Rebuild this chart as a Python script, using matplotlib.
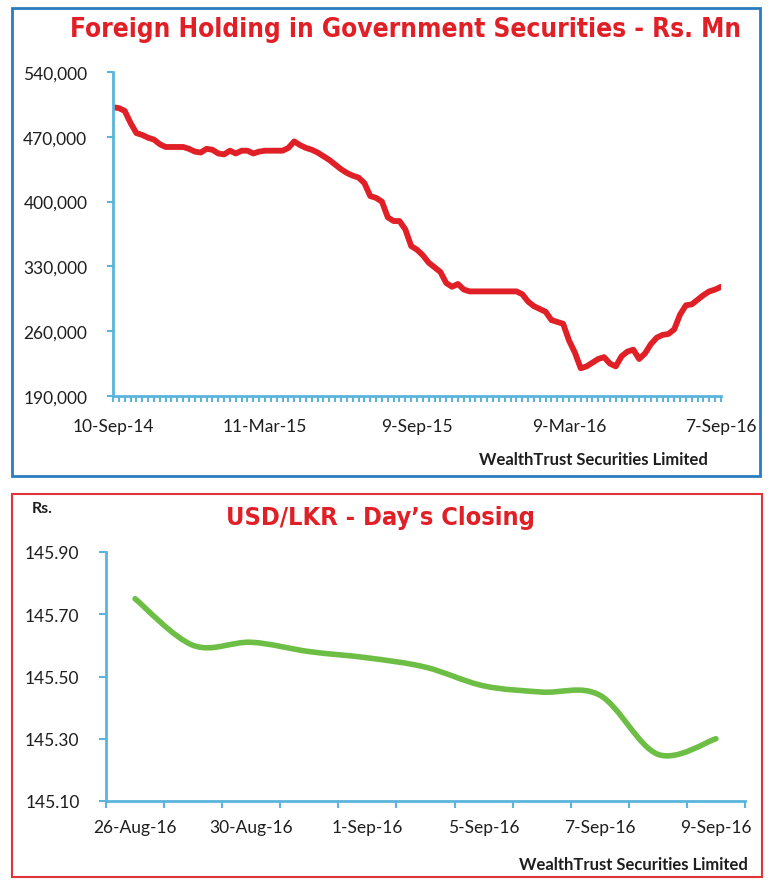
import matplotlib
matplotlib.use("Agg")
import matplotlib.pyplot as plt
from matplotlib.patches import Rectangle, PathPatch
from matplotlib.path import Path
from matplotlib.ticker import FuncFormatter, FixedLocator

# ---------------- data ----------------
foreign_holding = [502000, 501000, 498000, 485000, 474000, 472000, 469000, 467000, 462000, 459000,
                   459000, 459000, 459000, 457000, 454000, 453000, 457000, 456000, 452000, 451000,
                   455000, 452000, 455000, 455000, 452000, 454000, 455000, 455000, 455000, 455000,
                   458000, 465000, 461000, 458000, 456000, 453000, 449000, 445000, 440000, 435000,
                   431000, 428000, 426000, 420000, 406000, 404000, 400000, 383000, 379000, 379000,
                   370000, 352000, 348000, 342000, 334000, 329000, 324000, 312000, 308000, 311000,
                   305000, 303000, 303000, 303000, 303000, 303000, 303000, 303000, 303000, 303000,
                   300000, 292000, 287000, 284000, 281000, 272000, 270000, 268000, 250000, 237000,
                   220000, 222000, 226000, 230000, 232000, 225000, 222000, 233000, 238000, 240000,
                   230000, 236000, 246000, 253000, 256000, 257000, 262000, 278000, 288000, 289000,
                   294000, 299000, 303000, 305000, 308000]
top_tick_labels = ["10-Sep-14", "11-Mar-15", "9-Sep-15", "9-Mar-16", "7-Sep-16"]
top_label_step = 26
top_yticks = [190000, 260000, 330000, 400000, 470000, 540000]

usd_dates = ["26-Aug-16", "29-Aug-16", "30-Aug-16", "31-Aug-16", "1-Sep-16", "2-Sep-16",
             "5-Sep-16", "6-Sep-16", "7-Sep-16", "8-Sep-16", "9-Sep-16"]
usd_lkr = [145.75, 145.60, 145.61, 145.58, 145.56, 145.53, 145.47, 145.45, 145.44, 145.25, 145.30]
bottom_yticks = [145.10, 145.30, 145.50, 145.70, 145.90]

# ---------------- style ----------------
W, H = 770, 887
fig = plt.figure(figsize=(W / 100, H / 100), dpi=100)
AXIS_BLUE = "#5ab4dc"
RED = "#e01f26"
GREEN = "#6dbe45"
TXT = "#1e1e1e"
TITLE_FONT = ["DejaVu Sans"]
LABEL_FONT = ["Lato", "DejaVu Sans"]


def fx(px):
    return px / W


def fy(py):
    return 1 - py / H


# frames
fig.patches.append(Rectangle((fx(12), fy(477)), fx(760) - fx(12), fy(9) - fy(477),
                             transform=fig.transFigure, fill=False, ec="#2a7cc0", lw=2.0))
fig.patches.append(Rectangle((fx(12), fy(878)), fx(762) - fx(12), fy(495) - fy(878),
                             transform=fig.transFigure, fill=False, ec="#e0343a", lw=1.5))

# ---------------- top chart ----------------
ax1 = fig.add_axes([fx(113), fy(397), fx(721) - fx(113), fy(73) - fy(397)])
n = len(foreign_holding)
xs = list(range(n))
ax1.plot(xs, foreign_holding, color=RED, lw=4.2, solid_joinstyle="round", solid_capstyle="round")
ax1.set_xlim(0, n - 1)
ax1.set_ylim(190000, 540000)
ax1.set_yticks(top_yticks)
ax1.yaxis.set_major_formatter(FuncFormatter(lambda v, p: f"{int(v):,}"))
ax1.set_xticks(xs)
labels = [""] * n
for i, lab in enumerate(top_tick_labels):
    labels[i * top_label_step] = lab
ax1.set_xticklabels(labels)
for s in ["top", "right"]:
    ax1.spines[s].set_visible(False)
for s in ["left", "bottom"]:
    ax1.spines[s].set_color(AXIS_BLUE)
    ax1.spines[s].set_linewidth(2.0)
ax1.tick_params(axis="both", colors=AXIS_BLUE, width=1.5, length=4.5, direction="out",
                labelcolor=TXT, labelsize=12.5)
ax1.tick_params(axis="y", pad=14)
ax1.tick_params(axis="x", pad=11)
for t in ax1.get_xticklabels() + ax1.get_yticklabels():
    t.set_family(LABEL_FONT)

fig.text(fx(406), fy(30), "Foreign Holding in Government Securities - Rs. Mn", ha="center", va="center",
         color=RED, fontsize=18.8, fontweight="bold", fontstretch="condensed", family=TITLE_FONT)
fig.text(fx(708), fy(460), "WealthTrust Securities Limited", ha="right", va="center",
         color=TXT, fontsize=12, fontweight="bold", family=LABEL_FONT)

# ---------------- bottom chart ----------------
ax2 = fig.add_axes([fx(106), fy(802), fx(745) - fx(106), fy(553) - fy(802)])
m = len(usd_lkr)
bx = list(range(m))
# smooth (Catmull-Rom style) Bezier through the data points
verts = [(bx[0], usd_lkr[0])]
codes = [Path.MOVETO]
for i in range(m - 1):
    p0 = (bx[max(i - 1, 0)], usd_lkr[max(i - 1, 0)])
    p1 = (bx[i], usd_lkr[i])
    p2 = (bx[i + 1], usd_lkr[i + 1])
    p3 = (bx[min(i + 2, m - 1)], usd_lkr[min(i + 2, m - 1)])
    c1 = (p1[0] + (p2[0] - p0[0]) / 6, p1[1] + (p2[1] - p0[1]) / 6)
    c2 = (p2[0] - (p3[0] - p1[0]) / 6, p2[1] - (p3[1] - p1[1]) / 6)
    verts += [c1, c2, p2]
    codes += [Path.CURVE4] * 3
ax2.add_patch(PathPatch(Path(verts, codes), fill=False, ec=GREEN, lw=4.0, capstyle="round",
                        joinstyle="round"))
ax2.set_xlim(-0.5, m - 0.5)
ax2.set_ylim(145.10, 145.90)
ax2.set_yticks(bottom_yticks)
ax2.yaxis.set_major_formatter(FuncFormatter(lambda v, p: f"{v:.2f}"))
ax2.set_xticks(bx)
ax2.set_xticklabels([d if i % 2 == 0 else "" for i, d in enumerate(usd_dates)])
ax2.xaxis.set_minor_locator(FixedLocator([i - 0.5 for i in range(m + 1)]))
for s in ["top", "right"]:
    ax2.spines[s].set_visible(False)
for s in ["left", "bottom"]:
    ax2.spines[s].set_color(AXIS_BLUE)
    ax2.spines[s].set_linewidth(2.0)
ax2.tick_params(axis="both", which="both", colors=AXIS_BLUE, width=1.5, direction="out",
                labelcolor=TXT, labelsize=12.5)
ax2.tick_params(axis="y", length=5, pad=14)
ax2.tick_params(axis="x", which="major", length=0, pad=13)
ax2.tick_params(axis="x", which="minor", length=5)
for t in ax2.get_xticklabels() + ax2.get_yticklabels():
    t.set_family(LABEL_FONT)

fig.text(fx(380), fy(518), "USD/LKR - Day\u2019s Closing", ha="center", va="center",
         color=RED, fontsize=18.2, fontweight="bold", fontstretch="condensed", family=TITLE_FONT)
fig.text(fx(32), fy(509), "Rs.", ha="left", va="center", color=TXT, fontsize=11.5,
         fontweight="bold", family=LABEL_FONT)
fig.text(fx(748), fy(865), "WealthTrust Securities Limited", ha="right", va="center",
         color=TXT, fontsize=12, fontweight="bold", family=LABEL_FONT)

fig.savefig("out.png", dpi=100, facecolor="white")
